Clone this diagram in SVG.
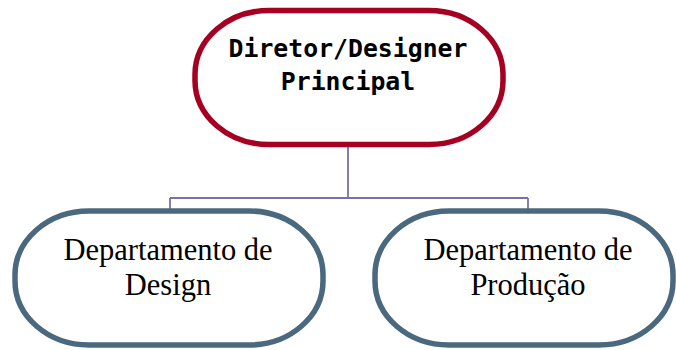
<svg xmlns="http://www.w3.org/2000/svg" width="676" height="350" viewBox="0 0 676 350">
<style>
.top{fill:#fff;stroke:#A50021;stroke-width:5.5}
.dep{fill:#fff;stroke:#4A697F;stroke-width:5.5}
.t1{font-family:"DejaVu Sans Mono","Liberation Mono",monospace;font-weight:bold;font-size:24.8px;fill:#000;text-anchor:middle}
.t2{font-family:"Liberation Serif","Times New Roman",serif;font-size:30.5px;fill:#000;text-anchor:middle}
.conn{fill:none;stroke:#7A6FA6;stroke-width:1.8}
</style>
<rect width="676" height="350" fill="#fff"/>
<g id="connectors">
<path class="conn" d="M348,145 V198 M170,198 H528 M170,198 V211 M528,198 V211"/>
</g>
<g id="node-diretor">
<rect class="top" x="195" y="10.5" width="308" height="134" rx="74" ry="64"/>
<text class="t1" x="348" y="57">Diretor/Designer</text>
<text class="t1" x="348" y="90">Principal</text>
</g>
<g id="node-design">
<rect class="dep" x="15" y="211" width="308" height="134" rx="74" ry="64"/>
<text class="t2" x="168" y="260">Departamento de</text>
<text class="t2" x="168" y="295">Design</text>
</g>
<g id="node-producao">
<rect class="dep" x="375" y="211" width="298" height="134" rx="74" ry="64"/>
<text class="t2" x="528" y="260">Departamento de</text>
<text class="t2" x="528" y="295">Produção</text>
</g>
</svg>
